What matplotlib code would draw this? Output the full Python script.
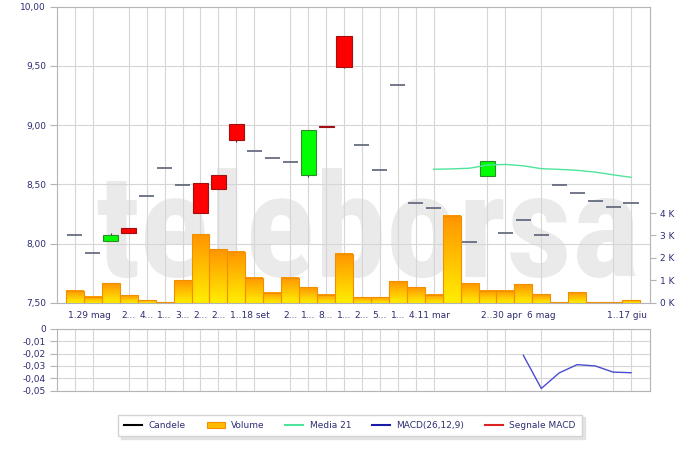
import numpy as np
import matplotlib
matplotlib.use("Agg")
import matplotlib.pyplot as plt
from matplotlib.patches import Rectangle, Patch
from matplotlib.lines import Line2D
from matplotlib.colors import LinearSegmentedColormap
from matplotlib import font_manager

# ---- data -------------------------------------------------------------
opens = [8.07, 7.92, 8.02, 8.13, 8.40, 8.64, 8.49, 8.51, 8.58, 9.01,
         8.78, 8.72, 8.69, 8.58, 8.99, 9.75, 8.83, 8.62, 9.34, 8.34,
         8.30, np.nan, 8.01, 8.57, 8.09, 8.20, 8.07, 8.49, 8.43, 8.36,
         8.31, 8.34]
closes = [8.07, 7.92, 8.07, 8.09, 8.40, 8.64, 8.49, 8.26, 8.46, 8.87,
          8.78, 8.72, 8.69, 8.96, 8.98, 9.49, 8.83, 8.62, 9.34, 8.34,
          8.30, np.nan, 8.01, 8.70, 8.09, 8.20, 8.07, 8.49, 8.43, 8.36,
          8.31, 8.34]
highs = [8.07, 7.92, 8.09, 8.13, 8.40, 8.64, 8.49, 8.51, 8.58, 9.01,
         8.78, 8.72, 8.69, 8.96, 8.99, 9.75, 8.83, 8.62, 9.34, 8.34,
         8.30, np.nan, 8.01, 8.70, 8.09, 8.20, 8.07, 8.49, 8.43, 8.36,
         8.31, 8.34]
lows = [8.07, 7.92, 8.02, 8.09, 8.40, 8.64, 8.49, 8.26, 8.46, 8.86,
        8.78, 8.72, 8.69, 8.56, 8.98, 9.48, 8.83, 8.62, 9.34, 8.34,
        8.30, np.nan, 8.01, 8.57, 8.09, 8.20, 8.07, 8.49, 8.43, 8.36,
        8.31, 8.34]
volume_k = [0.54, 0.27, 0.88, 0.33, 0.10, 0.04, 1.00, 3.07, 2.40, 2.28,
            1.12, 0.45, 1.12, 0.71, 0.36, 2.19, 0.24, 0.24, 0.98, 0.71,
            0.36, 3.89, 0.88, 0.54, 0.54, 0.83, 0.38, 0.04, 0.46, 0.03,
            0.03, 0.13]
ma21 = [np.nan] * 20 + [8.627, 8.630, 8.636, 8.662, 8.668, 8.656,
                        8.632, 8.626, 8.618, 8.603, 8.580, 8.559]
macd = [np.nan] * 25 + [-0.0215, -0.0482, -0.0356, -0.0290, -0.0300,
                        -0.0350, -0.0355]

# vertical grid lines sit on these sessions
grid_pos = [0, 1, 3, 4, 5, 6, 7, 8, 9, 10, 12, 13, 14, 15, 16, 17, 18,
            19, 20, 23, 24, 26, 30, 31]
# date labels along the time axis
label_pos = [0.8, 3, 4, 5, 6, 7, 8, 9.75, 12, 13, 14, 15, 16, 17, 18,
             19.75, 23.75, 26, 30.75]
label_txt = ["1.29 mag", "2...", "4...", "1...", "3...", "2...", "2...",
             "1..18 set", "2...", "1...", "8...", "1...", "2...", "5...",
             "1...", "4.11 mar", "2..30 apr", "6 mag", "1..17 giu"]

price_ticks = [7.5, 8.0, 8.5, 9.0, 9.5, 10.0]
vol_ticks = [0, 1, 2, 3, 4]
macd_ticks = [0, -0.01, -0.02, -0.03, -0.04, -0.05]

# ---- styling ------------------------------------------------------------
W, H = 700, 451
LABEL = "#2d2d72"
GRID = "#d6d6d6"
SPINE = "#b4b4b4"
FS = 6.5


def px_rect(x0, y0, x1, y1):
    return [x0 / W, 1 - y1 / H, (x1 - x0) / W, (y1 - y0) / H]


def comma(v, nd=2):
    return f"{v:.{nd}f}".replace(".", ",")


fig = plt.figure(figsize=(W / 100, H / 100), dpi=100)
fig.patch.set_facecolor("white")

idx = np.arange(len(opens))
xlim = (-1.0, 32.06)

# price axes: background, grid, left scale
ax = fig.add_axes(px_rect(57, 6.7, 650, 302.7))
ax.set_zorder(1)
ax.xaxis.remove_overlapping_locs = False
ax.set_ylim(7.5, 10.0)
ax.set_yticks(price_ticks, [comma(v) for v in price_ticks])
ax.set_xticks(grid_pos, [""] * len(grid_pos))
ax.set_xticks(label_pos, label_txt, minor=True)
ax.grid(True, which="major", color=GRID, linewidth=0.8)
ax.tick_params(axis="y", direction="out", length=5, width=0.8, color=SPINE,
               labelsize=FS, labelcolor=LABEL, pad=3)
ax.tick_params(axis="x", which="both", length=0, labelsize=FS,
               labelcolor=LABEL, pad=6)
for s in ax.spines.values():
    s.set_color(SPINE)
    s.set_linewidth(0.8)

# watermark
wm_fams = {f.name for f in font_manager.fontManager.ttflist}
wm_family = next((f for f in ["Liberation Sans Narrow", "DejaVu Sans Condensed",
                              "Roboto Condensed", "Open Sans Condensed"]
                  if f in wm_fams), "DejaVu Sans")
wm = ax.text(95 / W, 1 - 306 / H, "teleborsa", transform=fig.transFigure,
             family=wm_family, weight="bold", fontsize=100, color="#eaeaea",
             ha="left", va="bottom", zorder=0.8)
fig.canvas.draw()
bb = wm.get_window_extent()
wm.set_fontsize(100 * 545 / bb.width)

# volume axes with right-hand scale
axv = fig.add_axes(px_rect(57, 6.7, 650, 302.7), sharex=ax)
axv.set_zorder(2)
axv.patch.set_visible(False)
cmap = LinearSegmentedColormap.from_list("vol", ["#ffee00", "#ff9400"])
grad = np.linspace(0, 1, 64).reshape(-1, 1)
bars = axv.bar(idx, volume_k, width=1.0, facecolor="none",
               edgecolor="#f09000", linewidth=0.8, zorder=3)
for b in bars:
    x0, w, h = b.get_x(), b.get_width(), b.get_height()
    axv.imshow(grad, extent=(x0, x0 + w, 0, h), origin="lower", cmap=cmap,
               aspect="auto", interpolation="bilinear", zorder=2)
axv.set_aspect("auto")
axv.set_ylim(0, 13.21)
axv.yaxis.tick_right()
axv.set_yticks(vol_ticks, [f"{v} K" for v in vol_ticks])
axv.tick_params(axis="y", direction="out", length=4, width=0.8, color=SPINE,
                labelsize=FS, labelcolor=LABEL, pad=3)
axv.tick_params(axis="x", which="both", bottom=False, labelbottom=False)
for s in axv.spines.values():
    s.set_visible(False)

# candles and moving average
axc = fig.add_axes(px_rect(57, 6.7, 650, 302.7), sharex=ax, sharey=ax)
axc.set_zorder(3)
axc.patch.set_visible(False)
axc.axis("off")
bw = 0.84
for i, (o, c, hi, lo) in enumerate(zip(opens, closes, highs, lows)):
    if np.isnan(o):
        continue
    axc.vlines(i, lo, hi, color="#3a3a3a", linewidth=0.8, zorder=2)
    if o == c:
        axc.hlines(o, i - bw / 2, i + bw / 2, color="#5b6176",
                   linewidth=1.2, zorder=3)
    else:
        up = c > o
        axc.add_patch(Rectangle((i - bw / 2, min(o, c)), bw, abs(c - o),
                                facecolor="#00ff00" if up else "#ff0000",
                                edgecolor="#2f8a2f" if up else "#a01010",
                                linewidth=0.8, zorder=3))
axc.plot(idx, ma21, color="#4fe39c", linewidth=1.0, zorder=4)

# MACD panel
axm = fig.add_axes(px_rect(57, 328.7, 650, 390.7), sharex=ax)
axm.xaxis.remove_overlapping_locs = False
axm.set_ylim(-0.05, 0)
axm.set_yticks(macd_ticks, ["0" if v == 0 else comma(v) for v in macd_ticks])
axm.grid(True, which="major", color=GRID, linewidth=0.8)
axm.tick_params(axis="y", direction="out", length=5, width=0.8, color=SPINE,
                labelsize=FS, labelcolor=LABEL, pad=3)
axm.tick_params(axis="x", which="both", length=0, labelbottom=False)
for s in axm.spines.values():
    s.set_color(SPINE)
    s.set_linewidth(0.8)
axm.plot(idx, macd, color="#4b4bd2", linewidth=1.0)

ax.set_xlim(*xlim)

# legend
handles = [Line2D([], [], color="black", linewidth=1.5),
           Patch(facecolor="#ffbb00", edgecolor="#f09000", linewidth=0.8),
           Line2D([], [], color="#4fe39c", linewidth=1.5),
           Line2D([], [], color="#1a1aa8", linewidth=1.5),
           Line2D([], [], color="#dd2222", linewidth=1.5)]
labels = ["Candele", "Volume", "Media 21", "MACD(26,12,9)", "Segnale MACD"]
leg = fig.legend(handles, labels, loc="center",
                 bbox_to_anchor=(350 / W, 1 - 425.5 / H), ncol=5,
                 fontsize=FS, handlelength=2.0, handletextpad=0.7,
                 columnspacing=2.3, borderpad=0.7, fancybox=False,
                 frameon=True, edgecolor="#d4d4d4", facecolor="white",
                 framealpha=1, shadow={"color": "#e2e2e2", "alpha": 1})
for t in leg.get_texts():
    t.set_color(LABEL)

fig.savefig("out.png", dpi=100)
